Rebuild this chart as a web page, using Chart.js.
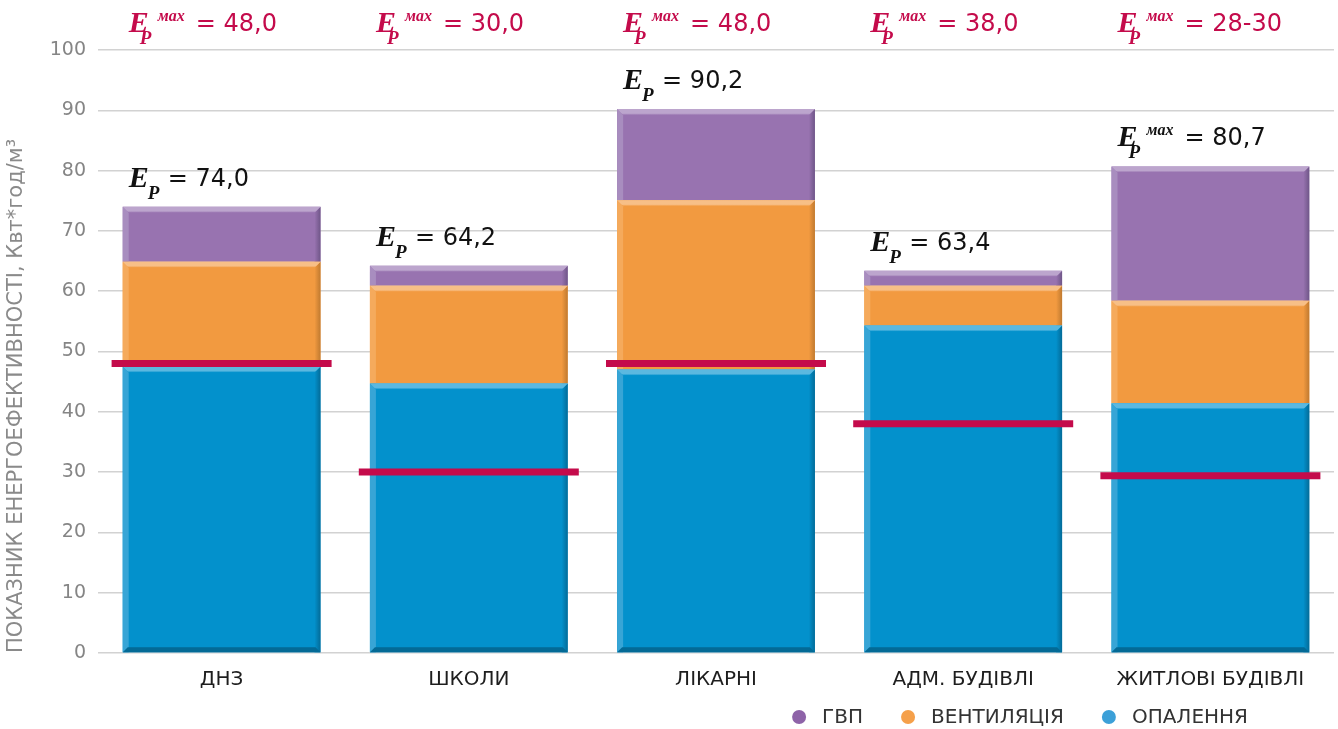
<!DOCTYPE html>
<html>
<head>
<meta charset="utf-8">
<script src="https://cdn.jsdelivr.net/npm/chart.js@4/dist/chart.umd.min.js"></script>
<style>
  html, body { margin: 0; padding: 0; background: #ffffff; }
  #wrap { width: 1338px; height: 729px; }
</style>
</head>
<body>
<div id="wrap"><canvas id="c" width="1338" height="729"></canvas></div>
<script>
// Building types
const categories = ['ДНЗ', 'ШКОЛИ', 'ЛІКАРНІ', 'АДМ. БУДІВЛІ', 'ЖИТЛОВІ БУДІВЛІ'];

// Energy use components, kWh per m³ per year
const heating     = [47.5, 44.7, 47.0, 54.3, 41.4];   // ОПАЛЕННЯ
const ventilation = [17.4, 16.2, 28.1, 6.6, 17.0];    // ВЕНТИЛЯЦІЯ
const hotWater    = [9.1, 3.3, 15.1, 2.5, 22.3];      // ГВП

// Maximum allowed value per building type
const maxValues = [48.0, 30.0, 48.0, 38.0, 29.4];
const maxLabels = ['48,0', '30,0', '48,0', '38,0', '28-30'];

// Total label for the last group is written as E_P^max
const totalLabelIsMax = [false, false, false, false, true];

const yTicks = { min: 0, max: 100, step: 10 };

const CRIMSON = '#c40b4b';
const palette = {
  hotWater:    { main: '#9873b0', top: '#bca5cd', left: '#a88dbf', right: '#6f5688', legend: '#8e63a8' },
  ventilation: { main: '#f29a40', top: '#f7bf87', left: '#f5aa5c', right: '#c07a30', legend: '#f5a04a' },
  heating:     { main: '#0391cc', top: '#5bb8e0', left: '#37a5d6', right: '#036b98', legend: '#3ca0d8', bottom: '#036a96' }
};

const totals = categories.map((_, i) => heating[i] + ventilation[i] + hotWater[i]);
const fmt = v => v.toFixed(1).replace('.', ',');

// Bevelled edges on each bar segment
const bevelPlugin = {
  id: 'bevel',
  afterDatasetDraw(chart, args) {
    const meta = args.meta;
    if (meta.type !== 'bar') return;
    const pal = chart.data.datasets[args.index].palette;
    const ctx = chart.ctx;
    const e = 6;
    meta.data.forEach(el => {
      const p = el.getProps(['x', 'y', 'base', 'width'], true);
      const l = p.x - p.width / 2, r = p.x + p.width / 2;
      const t = Math.min(p.y, p.base), b = Math.max(p.y, p.base);
      const h = b - t;
      if (h <= 0) return;
      ctx.save();
      // left edge
      ctx.fillStyle = pal.left;
      ctx.beginPath();
      ctx.moveTo(l, t); ctx.lineTo(l + e, t + e); ctx.lineTo(l + e, b); ctx.lineTo(l, b); ctx.closePath();
      ctx.fill();
      // right edge
      const gr = ctx.createLinearGradient(r - e, 0, r, 0);
      gr.addColorStop(0, pal.main);
      gr.addColorStop(1, pal.right);
      ctx.fillStyle = gr;
      ctx.beginPath();
      ctx.moveTo(r, t); ctx.lineTo(r - e, t + e); ctx.lineTo(r - e, b); ctx.lineTo(r, b); ctx.closePath();
      ctx.fill();
      // top edge
      const gt = ctx.createLinearGradient(0, t, 0, t + e);
      gt.addColorStop(0, pal.top);
      gt.addColorStop(0.7, pal.top);
      gt.addColorStop(1, pal.main);
      ctx.fillStyle = gt;
      ctx.beginPath();
      ctx.moveTo(l, t); ctx.lineTo(r, t); ctx.lineTo(r - e, t + e); ctx.lineTo(l + e, t + e); ctx.closePath();
      ctx.fill();
      // bottom edge on the base segment
      if (pal.bottom) {
        const bb = 5;
        ctx.fillStyle = pal.bottom;
        ctx.beginPath();
        ctx.moveTo(l, b); ctx.lineTo(r, b); ctx.lineTo(r - bb, b - bb); ctx.lineTo(l + bb, b - bb); ctx.closePath();
        ctx.fill();
      }
      ctx.restore();
    });
  }
};

// E_P annotations: limits above the plot, totals above each bar
function drawEp(ctx, x, baseline, withMax, value, color) {
  ctx.save();
  ctx.fillStyle = color;
  ctx.textAlign = 'left';
  ctx.textBaseline = 'alphabetic';
  ctx.font = 'italic bold 30px "Liberation Serif", serif';
  ctx.fillText('E', x, baseline);
  ctx.font = 'italic bold 19px "Liberation Serif", serif';
  ctx.fillText('P', x + (withMax ? 11 : 19), baseline + 12);
  let tx = x + 39;
  if (withMax) {
    ctx.font = 'italic bold 16px "Liberation Serif", serif';
    ctx.fillText('мах', x + 29, baseline - 11);
    tx = x + 67;
  }
  ctx.font = '24px "DejaVu Sans", sans-serif';
  ctx.fillText('= ' + value, tx, baseline - 1);
  ctx.restore();
}

const annotationPlugin = {
  id: 'epLabels',
  afterDraw(chart) {
    const ctx = chart.ctx;
    const y = chart.scales.y;
    const meta = chart.getDatasetMeta(1);
    meta.data.forEach((el, i) => {
      const left = el.x - el.width / 2;
      drawEp(ctx, left + 6, 32, true, maxLabels[i], CRIMSON);
      drawEp(ctx, left + 6, y.getPixelForValue(totals[i]) - 20, totalLabelIsMax[i], fmt(totals[i]), '#111111');
    });
  }
};

// Series key, right-aligned under the last groups
const LEGEND = { endX: 1248, centerY: 717, radius: 7, textGap: 23, itemGap: 45, font: '20px "DejaVu Sans", sans-serif', color: '#333333' };
const legendPlugin = {
  id: 'seriesKey',
  afterDraw(chart) {
    const ctx = chart.ctx;
    const items = chart.data.datasets.filter(ds => ds.type === 'bar').reverse();
    ctx.save();
    ctx.font = LEGEND.font;
    ctx.textBaseline = 'middle';
    ctx.textAlign = 'left';
    const widths = items.map(ds => ctx.measureText(ds.label).width);
    const total = widths.reduce((s, w, i) => s + LEGEND.textGap + w + (i > 0 ? LEGEND.itemGap : 0), 0);
    let x = LEGEND.endX - total;
    items.forEach((ds, i) => {
      if (i > 0) x += LEGEND.itemGap;
      ctx.fillStyle = ds.palette.legend;
      ctx.beginPath();
      ctx.arc(x, LEGEND.centerY, LEGEND.radius, 0, Math.PI * 2);
      ctx.fill();
      ctx.fillStyle = LEGEND.color;
      ctx.fillText(ds.label, x + LEGEND.textGap, LEGEND.centerY + 1);
      x += LEGEND.textGap + widths[i];
    });
    ctx.restore();
  }
};

const barDataset = (label, data, key) => ({
  type: 'bar',
  label,
  data,
  palette: palette[key],
  backgroundColor: palette[key].main,
  borderWidth: 0,
  stack: 'main',
  order: 1,
  barPercentage: 0.8,
  categoryPercentage: 1.0
});

new Chart(document.getElementById('c'), {
  data: {
    labels: categories,
    datasets: [
      {
        type: 'line',
        label: 'max',
        data: maxValues,
        showLine: false,
        stack: 'limit',
        order: 0,
        pointStyle: 'line',
        pointRadius: 110,
        pointHoverRadius: 110,
        pointBorderWidth: 7,
        pointHoverBorderWidth: 7,
        borderColor: CRIMSON,
        backgroundColor: CRIMSON,
        clip: false
      },
      barDataset('ОПАЛЕННЯ', heating, 'heating'),
      barDataset('ВЕНТИЛЯЦІЯ', ventilation, 'ventilation'),
      barDataset('ГВП', hotWater, 'hotWater')
    ]
  },
  options: {
    responsive: false,
    devicePixelRatio: 1,
    animation: false,
    events: [],
    layout: { autoPadding: false, padding: { top: 50, right: 4, left: 0, bottom: 22 } },
    scales: {
      x: {
        stacked: true,
        grid: { display: false, drawTicks: false },
        border: { display: false },
        ticks: { font: { family: 'DejaVu Sans', size: 20 }, color: '#1e1e1e', padding: 15 }
      },
      y: {
        stacked: true,
        min: yTicks.min,
        max: yTicks.max,
        afterFit(scale) { scale.width = 98; },
        ticks: { stepSize: yTicks.step, font: { family: 'DejaVu Sans', size: 19 }, color: '#858585', padding: 12 },
        grid: { color: '#d2d2d2', lineWidth: 1.5, drawTicks: false },
        border: { display: false },
        title: {
          display: true,
          text: 'ПОКАЗНИК ЕНЕРГОЕФЕКТИВНОСТІ, Квт*год/м³',
          align: 'start',
          color: '#8a8a8a',
          font: { family: 'DejaVu Sans', size: 21 },
          padding: { top: 4, bottom: 0 }
        }
      }
    },
    plugins: {
      tooltip: { enabled: false },
      legend: { display: false }
    }
  },
  plugins: [bevelPlugin, annotationPlugin, legendPlugin]
});
</script>
</body>
</html>
